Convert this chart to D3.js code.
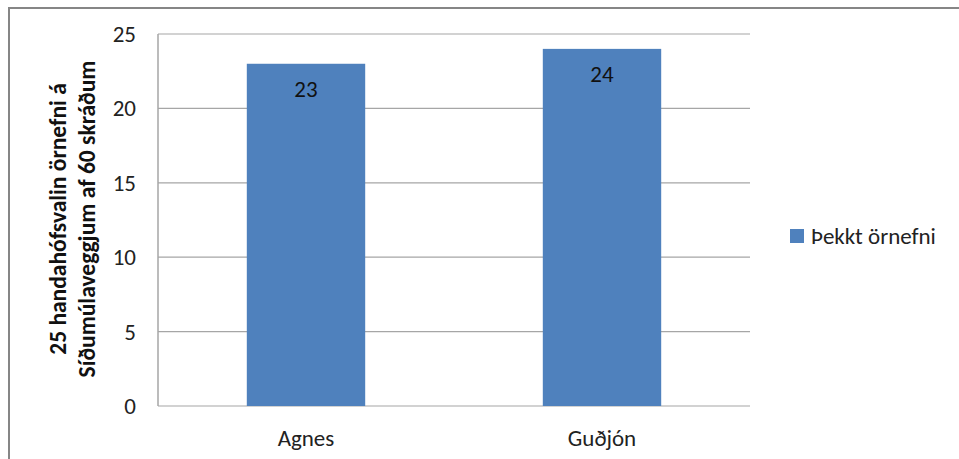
<!DOCTYPE html>
<html><head><meta charset="utf-8">
<script src="https://cdn.jsdelivr.net/npm/d3@7/dist/d3.min.js"></script>
<style>body{margin:0;background:#fff;}svg{display:block;}</style>
</head><body>
<svg id="c" width="959" height="459"></svg>
<script>
const categories = ["Agnes", "Guðjón"];
const values = [23, 24];
const seriesName = "Þekkt örnefni";
const yTicks = [0, 5, 10, 15, 20, 25];
const yTitle = ["25 handahófsvalin örnefni á", "Síðumúlaveggjum af 60 skráðum"];

const font = "Carlito, Calibri, Lato, 'Open Sans', sans-serif";
const svg = d3.select("#c");
const L = 158, R = 750, T = 34, B = 406;

// outer frame
svg.append("path").attr("d", `M9,460 V8 H960`).attr("fill", "none")
  .attr("stroke", "#868686").attr("stroke-width", 2);

const y = d3.scaleLinear().domain([0, 25]).range([B, T]);
const x = d3.scaleBand().domain(categories).range([L, R]).paddingInner(0).paddingOuter(0);

// gridlines
svg.append("g").selectAll("line").data(yTicks).join("line")
  .attr("x1", L).attr("x2", R).attr("y1", d => y(d)).attr("y2", d => y(d))
  .attr("stroke", "#a6a6a6").attr("stroke-width", 1.2);
// plot left border
svg.append("line").attr("x1", L).attr("x2", L).attr("y1", T).attr("y2", B)
  .attr("stroke", "#a6a6a6").attr("stroke-width", 1.5);

// y tick labels
svg.append("g").selectAll("text").data(yTicks).join("text")
  .attr("x", 136).attr("y", d => y(d)).attr("dy", "0.35em")
  .attr("text-anchor", "end").attr("font-family", font).attr("font-size", 23)
  .attr("fill", "#222").text(d => d);

// bars
const bw = x.bandwidth() * 0.4;
svg.append("g").selectAll("rect").data(values).join("rect")
  .attr("x", (d, i) => x(categories[i]) + x.bandwidth() / 2 - bw / 2)
  .attr("width", bw)
  .attr("y", d => y(d)).attr("height", d => y(0) - y(d))
  .attr("fill", "#4f81bd");

// value labels
svg.append("g").selectAll("text").data(values).join("text")
  .attr("x", (d, i) => x(categories[i]) + x.bandwidth() / 2)
  .attr("y", d => y(d) + 25).attr("dy", "0.35em")
  .attr("text-anchor", "middle").attr("font-family", font).attr("font-size", 23)
  .attr("fill", "#111").text(d => d);

// x labels
svg.append("g").selectAll("text").data(categories).join("text")
  .attr("x", d => x(d) + x.bandwidth() / 2).attr("y", 438).attr("dy", "0.35em")
  .attr("text-anchor", "middle").attr("font-family", font).attr("font-size", 23)
  .attr("fill", "#222").text(d => d);

// y title
const yt = svg.append("text").attr("transform", "translate(72,219) rotate(-90)")
  .attr("text-anchor", "middle").attr("font-family", font).attr("font-size", 23.5)
  .attr("font-weight", "bold").attr("fill", "#111");
yTitle.forEach((t, i) => yt.append("tspan").attr("x", 0).attr("y", (i - 0.5) * 29).attr("dy", "0.35em").text(t));

// legend
svg.append("rect").attr("x", 790).attr("y", 229).attr("width", 14).attr("height", 14).attr("fill", "#4f81bd");
svg.append("text").attr("x", 811).attr("y", 236).attr("dy", "0.35em")
  .attr("font-family", font).attr("font-size", 23).attr("fill", "#222").text(seriesName);
</script>
</body></html>
